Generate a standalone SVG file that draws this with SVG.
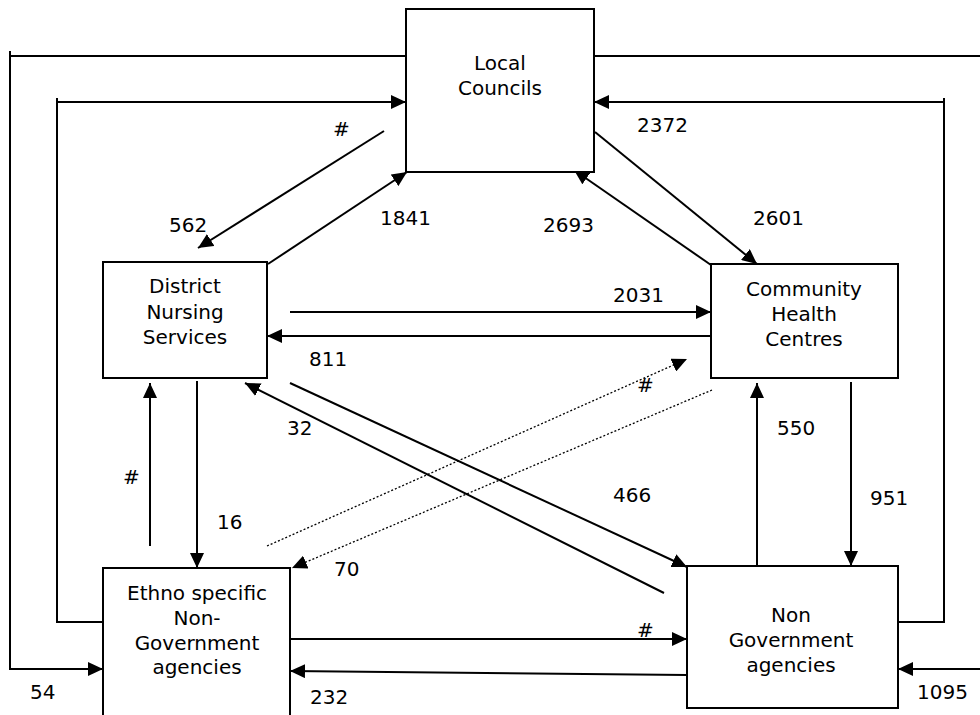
<svg xmlns="http://www.w3.org/2000/svg" width="980" height="715" viewBox="0 0 980 715">
  <defs>
    <marker id="arrow" markerUnits="userSpaceOnUse" markerWidth="15" markerHeight="14" refX="15" refY="7" orient="auto">
      <path d="M0,0 L15,7 L0,14 z" fill="#000"/>
    </marker>
    <style>
      .box { fill: #fff; stroke: #000; stroke-width: 2; }
      .lbl { font-family: "DejaVu Sans", Verdana, sans-serif; font-size: 20px; fill: #000; }
      .ctr { text-anchor: middle; }
      .ln { fill: none; stroke: #000; stroke-width: 2; }
      .dot { fill: none; stroke: #000; stroke-width: 1.3; stroke-dasharray: 2 2; }
      .arr { marker-end: url(#arrow); }
    </style>
  </defs>
  <rect width="980" height="715" fill="#fff"/>

  <!-- connectors -->
  <g id="connectors">
    <!-- outer loops -->
    <path class="ln" d="M406,56 H10"/>
    <path class="ln arr" d="M10,51 V669 H103"/>
    <path class="ln arr" d="M103,622 H57 V102 H406"/>
    <path class="ln" d="M57,98 V102"/>
    <path class="ln" d="M594,56 H980"/>
    <path class="ln arr" d="M980,669 H898"/>
    <path class="ln arr" d="M898,622 H944 V102 H594"/>
    <path class="ln" d="M944,98 V102"/>

    <!-- Local Councils <-> District Nursing -->
    <line class="ln arr" x1="384" y1="131" x2="198" y2="248"/>
    <line class="ln arr" x1="268" y1="264" x2="407" y2="172"/>

    <!-- Local Councils <-> Community Health -->
    <line class="ln arr" x1="595" y1="132" x2="757" y2="264"/>
    <line class="ln arr" x1="711" y1="265" x2="574" y2="170"/>

    <!-- District Nursing <-> Community Health -->
    <line class="ln arr" x1="290" y1="312" x2="711" y2="312"/>
    <line class="ln arr" x1="711" y1="336" x2="267" y2="336"/>

    <!-- District Nursing <-> Non Government -->
    <line class="ln arr" x1="290" y1="383" x2="687" y2="567"/>
    <line class="ln arr" x1="664" y1="593" x2="245" y2="383"/>

    <!-- District Nursing <-> Ethno specific -->
    <line class="ln arr" x1="197" y1="381" x2="197" y2="568"/>
    <line class="ln arr" x1="150" y1="546" x2="150" y2="383"/>

    <!-- Ethno specific <-> Community Health (dotted) -->
    <line class="dot arr" x1="267" y1="546" x2="687" y2="359"/>
    <line class="dot arr" x1="712" y1="390" x2="292" y2="568"/>

    <!-- Community Health <-> Non Government -->
    <line class="ln arr" x1="851" y1="382" x2="851" y2="566"/>
    <line class="ln arr" x1="757" y1="569" x2="757" y2="383"/>

    <!-- Ethno specific <-> Non Government -->
    <line class="ln arr" x1="290" y1="639" x2="687" y2="639"/>
    <line class="ln arr" x1="687" y1="675" x2="290" y2="671"/>
  </g>

  <!-- connector labels -->
  <g id="labels" class="lbl">
    <text x="333" y="136">#</text>
    <text x="169" y="232">562</text>
    <text x="380" y="225">1841</text>
    <text x="637" y="132">2372</text>
    <text x="753" y="225">2601</text>
    <text x="543" y="232">2693</text>
    <text x="613" y="302">2031</text>
    <text x="309" y="366">811</text>
    <text x="287" y="435">32</text>
    <text x="613" y="502">466</text>
    <text x="123" y="484">#</text>
    <text x="217" y="529">16</text>
    <text x="637" y="392">#</text>
    <text x="334" y="576">70</text>
    <text x="777" y="435">550</text>
    <text x="870" y="505">951</text>
    <text x="637" y="637">#</text>
    <text x="30" y="699">54</text>
    <text x="310" y="704">232</text>
    <text x="917" y="699">1095</text>
  </g>

  <!-- nodes -->
  <g id="local-councils">
    <rect class="box" x="406" y="9" width="188" height="163"/>
    <text class="lbl ctr" x="500" y="70">Local</text>
    <text class="lbl ctr" x="500" y="95">Councils</text>
  </g>

  <g id="district-nursing">
    <rect class="box" x="103" y="262" width="164" height="116"/>
    <text class="lbl ctr" x="185" y="293">District</text>
    <text class="lbl ctr" x="185" y="319">Nursing</text>
    <text class="lbl ctr" x="185" y="344">Services</text>
  </g>

  <g id="community-health">
    <rect class="box" x="711" y="264" width="187" height="114"/>
    <text class="lbl ctr" x="804" y="296">Community</text>
    <text class="lbl ctr" x="804" y="321">Health</text>
    <text class="lbl ctr" x="804" y="346">Centres</text>
  </g>

  <g id="ethno-specific">
    <rect class="box" x="103" y="568" width="187" height="160"/>
    <text class="lbl ctr" x="197" y="600">Ethno specific</text>
    <text class="lbl ctr" x="197" y="625">Non-</text>
    <text class="lbl ctr" x="197" y="650">Government</text>
    <text class="lbl ctr" x="197" y="674">agencies</text>
  </g>

  <g id="non-government">
    <rect class="box" x="687" y="566" width="211" height="142"/>
    <text class="lbl ctr" x="791" y="622">Non</text>
    <text class="lbl ctr" x="791" y="647">Government</text>
    <text class="lbl ctr" x="791" y="672">agencies</text>
  </g>
</svg>
